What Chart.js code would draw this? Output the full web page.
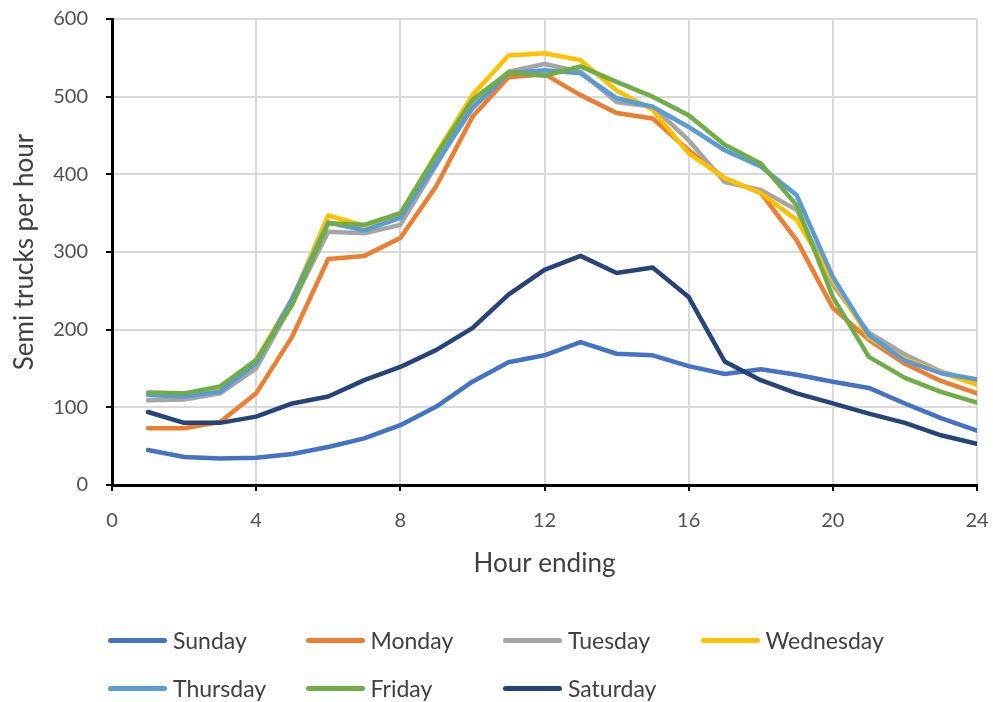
<!DOCTYPE html>
<html>
<head>
<meta charset="utf-8">
<script src="https://cdn.jsdelivr.net/npm/chart.js@4.4.1/dist/chart.umd.min.js"></script>
<style>
  html, body { margin: 0; padding: 0; background: #fff; overflow: hidden; }
  #wrap { position: relative; width: 993px; height: 702px; }
  #legend { position: absolute; left: 108px; top: 616px; width: 880px; font-family: Lato, "Open Sans", sans-serif; font-size: 23px; color: #404040; }
  .row { display: flex; height: 48px; align-items: center; }
  .item { width: 197.5px; display: flex; align-items: center; }
  .swatch { width: 59px; height: 5px; border-radius: 3px; margin-right: 6px; }
</style>
</head>
<body>
<div id="wrap">
  <canvas id="chart" width="993" height="702"></canvas>
  <div id="legend"></div>
</div>
<script>
// 時間（時）
const hours = [1, 2, 3, 4, 5, 6, 7, 8, 9, 10, 11, 12, 13, 14, 15, 16, 17, 18, 19, 20, 21, 22, 23, 24];
const dayNames = ['Sunday', 'Monday', 'Tuesday', 'Wednesday', 'Thursday', 'Friday', 'Saturday'];
const dayColors = ['#4472C4', '#ED7D31', '#A5A5A5', '#FFC000', '#5B9BD5', '#70AD47', '#264478'];

// 曜日ごとのトラック台数
const sunday    = [45, 36, 34, 35, 40, 49, 60, 77, 101, 133, 158, 167, 184, 169, 167, 153, 143, 149, 142, 133, 125, 105, 86, 70];
const monday    = [73, 73, 81, 118, 191, 291, 295, 318, 385, 474, 525, 529, 502, 479, 472, 431, 395, 376, 315, 228, 187, 156, 134, 118];
const tuesday   = [109, 110, 118, 150, 234, 326, 324, 335, 412, 490, 532, 542, 532, 493, 487, 444, 390, 380, 354, 258, 196, 168, 146, 133];
const wednesday = [117, 116, 124, 161, 240, 347, 334, 347, 427, 502, 553, 556, 547, 508, 483, 427, 395, 376, 341, 264, 190, 162, 145, 129];
const thursday  = [116, 114, 120, 157, 240, 338, 328, 344, 415, 485, 530, 534, 530, 498, 487, 461, 431, 410, 373, 268, 193, 160, 144, 136];
const friday    = [119, 118, 127, 161, 232, 337, 335, 350, 425, 496, 531, 527, 539, 519, 500, 476, 438, 414, 360, 242, 165, 138, 120, 106];
const saturday  = [94, 80, 80, 88, 105, 114, 135, 152, 174, 202, 245, 277, 295, 273, 280, 242, 159, 135, 118, 105, 92, 80, 64, 53];

const series = [sunday, monday, tuesday, wednesday, thursday, friday, saturday];

const font = 'Lato, "Open Sans", sans-serif';

const datasets = series.map((vals, i) => ({
    label: dayNames[i],
    data: vals.map((v, j) => ({ x: hours[j], y: v })),
    borderColor: dayColors[i],
    backgroundColor: dayColors[i],
    borderWidth: 4.5,
    pointRadius: 0,
    tension: 0,
    borderJoinStyle: 'round',
    borderCapStyle: 'round',
    order: series.length - i  // 後の曜日を上に描く
}));

const ctx = document.getElementById('chart').getContext('2d');
const chart = new Chart(ctx, {
    type: 'line',
    data: { datasets },
    options: {
        responsive: false,
        animation: false,
        layout: { padding: { top: 19, right: 16, bottom: 117, left: 0 } },
        plugins: {
            legend: { display: false },
            tooltip: { enabled: false }
        },
        scales: {
            x: {
                type: 'linear',
                min: 0, max: 24,
                // 端のラベル分の余白を無効にして枠の位置を固定
                afterFit: s => { s.height = 100; s.paddingLeft = 0; s.paddingRight = 0; },
                ticks: { stepSize: 4, padding: 18, color: '#505050', font: { family: font, size: 20 } },
                grid: { color: '#d9d9d9', lineWidth: 2, tickColor: '#000', tickLength: 6 },
                border: { color: '#000', width: 3 },
                title: { display: true, text: 'Hour ending', color: '#404040', font: { family: font, size: 26 }, padding: { top: 4, bottom: 6 } }
            },
            y: {
                min: 0, max: 600,
                afterFit: s => { s.width = 112; s.paddingTop = 0; s.paddingBottom = 0; },
                ticks: { stepSize: 100, padding: 18, color: '#505050', font: { family: font, size: 20 } },
                grid: { color: '#d9d9d9', lineWidth: 2, tickColor: '#000', tickLength: 6 },
                border: { color: '#000', width: 3 },
                title: { display: true, text: 'Semi trucks per hour', color: '#404040', font: { family: font, size: 26 }, padding: { top: 9, bottom: 0 } }
            }
        }
    }
});

// 凡例（4列固定）
const legend = document.getElementById('legend');
const perRow = 4;
for (let r = 0; r * perRow < dayNames.length; r++) {
    const row = document.createElement('div');
    row.className = 'row';
    dayNames.slice(r * perRow, r * perRow + perRow).forEach((name, k) => {
        const i = r * perRow + k;
        row.innerHTML += `<div class="item"><span class="swatch" style="background:${dayColors[i]}"></span><span>${name}</span></div>`;
    });
    legend.appendChild(row);
}
</script>
</body>
</html>
